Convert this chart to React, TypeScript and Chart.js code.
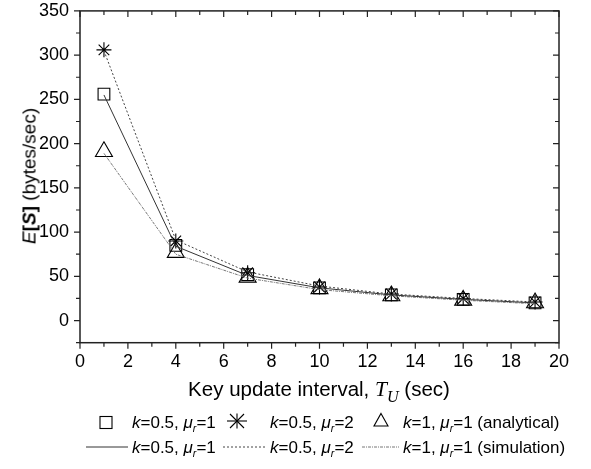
import React, { useEffect, useRef } from "react";
import { Chart, registerables } from "chart.js";

Chart.register(...registerables);

// ---- data ----
const intervals = [1, 4, 7, 10, 13, 16, 19];
const anaK05Mu1 = [256, 85, 52, 37, 29, 24, 20];
const anaK05Mu2 = [306, 90, 54, 38, 30, 25, 21];
const anaK1Mu1 = [191, 77, 49, 36, 28, 23, 20];
const simK05Mu1 = [255, 84, 51, 37, 29, 24, 20];
const simK05Mu2 = [305, 91, 55, 39, 30, 25, 21];
const simK1Mu1 = [189, 75, 48, 35, 28, 23, 19];
const yTickValues = [0, 50, 100, 150, 200, 250, 300, 350];
const X_MIN = 0;
const X_MAX = 20;
const Y_MIN = -25;
const Y_MAX = 350;

const FONT = "'Liberation Sans', Arial, Helvetica, sans-serif";

const toPts = (vals: number[]) => intervals.map((x, i) => ({ x, y: vals[i] }));

const framePlugin = {
  id: "frameTicks",
  afterDatasetsDraw(chart: any) {
    const { ctx, chartArea } = chart;
    const xs = chart.scales.x;
    const ys = chart.scales.y;
    const { left, right, top, bottom } = chartArea;
    ctx.save();
    ctx.strokeStyle = "#222";
    ctx.lineWidth = 1.5;
    ctx.strokeRect(left, top, right - left, bottom - top);
    ctx.lineWidth = 1.2;
    ctx.beginPath();
    for (let v = X_MIN; v <= X_MAX; v += 1) {
      const px = xs.getPixelForValue(v);
      const len = v % 2 === 0 ? 6 : 4;
      ctx.moveTo(px, bottom);
      ctx.lineTo(px, bottom + len);
      ctx.moveTo(px, top);
      ctx.lineTo(px, top + len);
    }
    for (let v = Y_MIN; v <= Y_MAX; v += 25) {
      const py = ys.getPixelForValue(v);
      const len = v % 50 === 0 ? 6 : 4;
      ctx.moveTo(left, py);
      ctx.lineTo(left - len, py);
      ctx.moveTo(right, py);
      ctx.lineTo(right - len, py);
    }
    ctx.stroke();
    ctx.restore();
  },
};

const Sub = ({ children }: { children: React.ReactNode }) => (
  <sub style={{ fontSize: "0.62em", verticalAlign: "-0.35em", lineHeight: 0 }}>{children}</sub>
);

const Label = ({ k, mu, tail }: { k: string; mu: string; tail?: string }) => (
  <span>
    <i>k</i>={k}, <i>μ</i>
    <Sub>
      <i>r</i>
    </Sub>
    ={mu}
    {tail ? " " + tail : ""}
  </span>
);

export default function App() {
  const canvasRef = useRef<HTMLCanvasElement | null>(null);

  useEffect(() => {
    document.body.style.margin = "0";
    const canvas = canvasRef.current;
    if (!canvas) return;
    Chart.defaults.font.family = FONT;
    const markerCommon = {
      showLine: false,
      borderColor: "#000",
      backgroundColor: "rgba(0,0,0,0)",
      pointBackgroundColor: "rgba(0,0,0,0)",
      pointBorderColor: "#000",
      pointBorderWidth: 1.1,
    };
    const lineCommon = {
      pointRadius: 0,
      borderWidth: 1,
      fill: false,
      tension: 0,
    };
    const chart = new Chart(canvas, {
      type: "line",
      data: {
        datasets: [
          { ...lineCommon, label: "sim1", data: toPts(simK05Mu1), borderColor: "#333" },
          { ...lineCommon, label: "sim2", data: toPts(simK05Mu2), borderColor: "#444", borderDash: [2, 2] },
          { ...lineCommon, label: "sim3", data: toPts(simK1Mu1), borderColor: "#777", borderDash: [3, 1, 1, 1] },
          { ...markerCommon, label: "ana1", data: toPts(anaK05Mu1), pointStyle: "rect", pointRadius: 8.3 },
          { ...markerCommon, label: "ana2", data: toPts(anaK05Mu2), pointStyle: "star", pointRadius: 7.5 },
          { ...markerCommon, label: "ana3", data: toPts(anaK1Mu1), pointStyle: "triangle", pointRadius: 9.8 },
        ],
      },
      options: {
        animation: false,
        responsive: false,
        devicePixelRatio: 1,
        layout: { padding: { left: 0, top: 7.3, right: 32, bottom: 86.3 } },
        plugins: { legend: { display: false }, tooltip: { enabled: false } },
        scales: {
          x: {
            type: "linear",
            min: X_MIN,
            max: X_MAX,
            grid: { display: false, drawTicks: false },
            border: { display: false },
            ticks: { stepSize: 2, color: "#000", font: { size: 18, family: FONT }, padding: 9, maxRotation: 0 },
            afterFit: (s: any) => {
              s.height = 40;
              s.paddingLeft = 0;
              s.paddingRight = 0;
            },
          },
          y: {
            type: "linear",
            min: Y_MIN,
            max: Y_MAX,
            grid: { display: false, drawTicks: false },
            border: { display: false },
            ticks: { color: "#000", font: { size: 18, family: FONT }, padding: 11 },
            afterBuildTicks: (s: any) => {
              s.ticks = yTickValues.map((v) => ({ value: v }));
            },
            afterFit: (s: any) => {
              s.width = 80;
              s.paddingTop = 0;
              s.paddingBottom = 0;
            },
          },
        },
      },
      plugins: [framePlugin],
    } as any);
    return () => chart.destroy();
  }, []);

  const textStyle: React.CSSProperties = {
    position: "absolute",
    fontFamily: FONT,
    fontSize: 17,
    lineHeight: "17px",
    whiteSpace: "nowrap",
    color: "#000",
  };

  return (
    <div style={{ position: "absolute", left: 0, top: 0, width: 591, height: 469, background: "#fff", overflow: "hidden" }}>
      <canvas ref={canvasRef} width={591} height={469} style={{ position: "absolute", left: 0, top: 0, width: 591, height: 469 }} />
      {/* y axis title */}
      <div
        style={{
          position: "absolute",
          left: 29,
          top: 176,
          transform: "translate(-50%, -50%) rotate(-90deg)",
          fontFamily: FONT,
          fontSize: 19,
          lineHeight: "19px",
          whiteSpace: "nowrap",
        }}
      >
        <i>E</i>
        <b>
          [<i>S</i>]
        </b>{" "}
        (bytes/sec)
      </div>
      {/* x axis title */}
      <div
        style={{
          position: "absolute",
          left: 319,
          top: 379,
          transform: "translateX(-50%)",
          fontFamily: FONT,
          fontSize: 20.5,
          lineHeight: "20px",
          whiteSpace: "nowrap",
        }}
      >
        Key update interval,{" "}
        <span style={{ fontFamily: "'Liberation Serif', 'Times New Roman', serif", fontStyle: "italic", fontSize: 21.5 }}>
          T
          <sub style={{ fontSize: "0.75em", verticalAlign: "-0.4em", lineHeight: 0 }}>U</sub>
        </span>{" "}
        (sec)
      </div>
      {/* legend symbols */}
      <svg width={591} height={469} style={{ position: "absolute", left: 0, top: 0, pointerEvents: "none" }}>
        <rect x={100} y={416.5} width={12} height={12} fill="none" stroke="#000" strokeWidth={1.1} />
        <g stroke="#000" strokeWidth={1.1}>
          <line x1={227} y1={421} x2={247} y2={421} />
          <line x1={237} y1={413.5} x2={237} y2={428.5} />
          <line x1={230} y1={414} x2={244} y2={428} />
          <line x1={244} y1={414} x2={230} y2={428} />
        </g>
        <polygon points="381,413.5 388,426 374,426" fill="none" stroke="#000" strokeWidth={1.1} />
        <line x1={86} y1={447} x2={128} y2={447} stroke="#333" strokeWidth={1} />
        <line x1={223} y1={447} x2={265} y2={447} stroke="#444" strokeWidth={1} strokeDasharray="2 2" />
        <line x1={362} y1={447} x2={399} y2={447} stroke="#777" strokeWidth={1} strokeDasharray="3 1 1 1" />
      </svg>
      {/* legend text */}
      <div style={{ ...textStyle, left: 132, top: 413.6 }}>
        <Label k="0.5" mu="1" />
      </div>
      <div style={{ ...textStyle, left: 270, top: 413.6 }}>
        <Label k="0.5" mu="2" />
      </div>
      <div style={{ ...textStyle, left: 403, top: 413.6 }}>
        <Label k="1" mu="1" tail="(analytical)" />
      </div>
      <div style={{ ...textStyle, left: 132, top: 438.6 }}>
        <Label k="0.5" mu="1" />
      </div>
      <div style={{ ...textStyle, left: 270, top: 438.6 }}>
        <Label k="0.5" mu="2" />
      </div>
      <div style={{ ...textStyle, left: 403, top: 438.6 }}>
        <Label k="1" mu="1" tail="(simulation)" />
      </div>
    </div>
  );
}
